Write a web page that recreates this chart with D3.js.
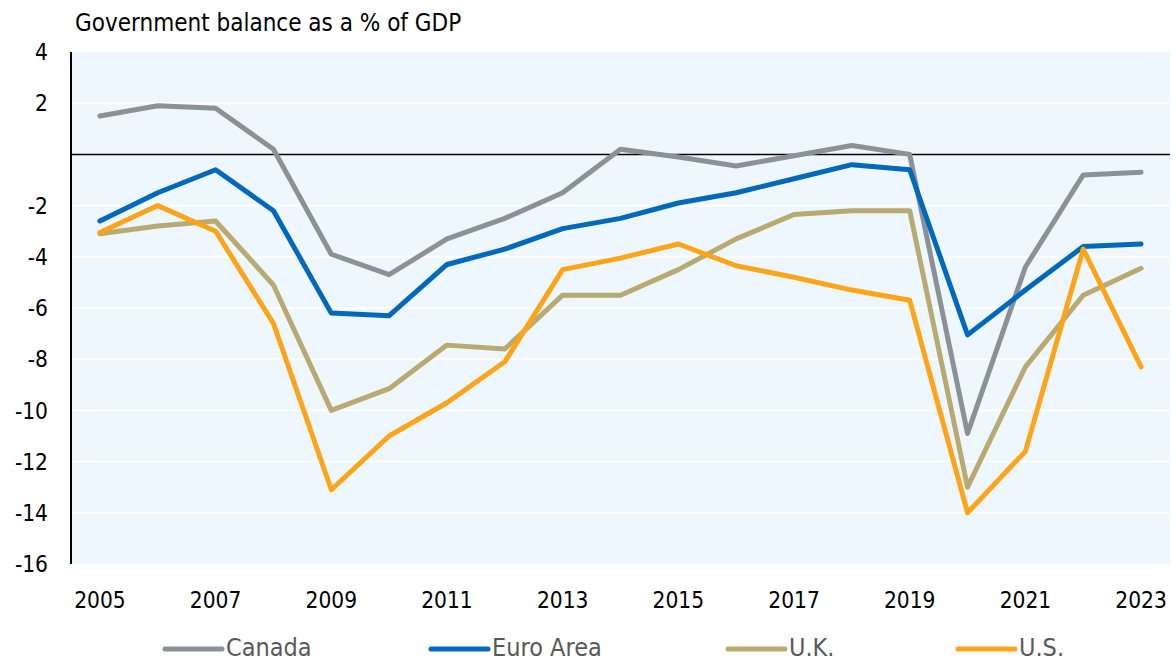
<!DOCTYPE html>
<html>
<head>
<meta charset="utf-8">
<script src="https://cdn.jsdelivr.net/npm/d3@7"></script>
<style>
  body { margin: 0; background: #fff; }
  svg { display: block; font-family: "DejaVu Sans Condensed", "DejaVu Sans", sans-serif; }
</style>
</head>
<body>
<div id="chart"></div>
<script>
const years = d3.range(2005, 2024);
const canada = [1.5, 1.9, 1.8, 0.2, -3.9, -4.7, -3.3, -2.5, -1.5, 0.2, -0.1, -0.45, -0.05, 0.35, 0.0, -10.9, -4.4, -0.8, -0.7];
const euroArea = [-2.6, -1.5, -0.6, -2.2, -6.2, -6.3, -4.3, -3.7, -2.9, -2.5, -1.9, -1.5, -0.95, -0.4, -0.6, -7.05, -5.3, -3.6, -3.5];
const uk = [-3.1, -2.8, -2.6, -5.1, -10.0, -9.15, -7.45, -7.6, -5.5, -5.5, -4.5, -3.3, -2.35, -2.2, -2.2, -13.0, -8.3, -5.5, -4.45];
const us = [-3.05, -2.0, -3.0, -6.6, -13.1, -11.0, -9.7, -8.1, -4.5, -4.05, -3.5, -4.35, -4.8, -5.3, -5.7, -14.0, -11.6, -3.7, -8.3];
const yTicks = [4, 2, -2, -4, -6, -8, -10, -12, -14, -16];
const xTicks = [2005, 2007, 2009, 2011, 2013, 2015, 2017, 2019, 2021, 2023];

const series = [
  { name: "Canada", values: canada, color: "#8b9197" },
  { name: "Euro Area", values: euroArea, color: "#0068bd" },
  { name: "U.K.", values: uk, color: "#b9aa72" },
  { name: "U.S.", values: us, color: "#fea418" }
];

const W = 1173, H = 663;
const margin = { top: 52, right: 3, bottom: 99, left: 71 };
const width = W - margin.left - margin.right;
const height = H - margin.top - margin.bottom;

const svg = d3.select("#chart").append("svg")
  .attr("width", W)
  .attr("height", H);

const g = svg.append("g")
  .attr("transform", `translate(${margin.left},${margin.top})`);

const x = d3.scaleBand().domain(years).range([0, width]);
const y = d3.scaleLinear().domain([-16, 4]).range([height, 0]);

// plot background
g.append("rect")
  .attr("width", width)
  .attr("height", height)
  .attr("fill", "#eef7fd");

// white gridlines
g.selectAll(".grid")
  .data(yTicks.filter(d => d !== 4 && d !== -16))
  .join("line")
  .attr("x1", 0)
  .attr("x2", width)
  .attr("y1", d => y(d))
  .attr("y2", d => y(d))
  .attr("stroke", "#fff")
  .attr("stroke-width", 2);

// y labels
g.selectAll(".ylab")
  .data(yTicks)
  .join("text")
  .attr("x", -23)
  .attr("y", d => y(d))
  .attr("dy", "0.36em")
  .attr("text-anchor", "end")
  .attr("font-size", 22.5)
  .attr("fill", "#000")
  .text(d => d);

// x labels
g.selectAll(".xlab")
  .data(xTicks)
  .join("text")
  .attr("x", d => x(d) + x.bandwidth() / 2)
  .attr("y", height + 44)
  .attr("text-anchor", "middle")
  .attr("font-size", 22.5)
  .attr("fill", "#000")
  .text(d => d);

// zero line and y axis
g.append("line")
  .attr("x1", 0).attr("x2", width)
  .attr("y1", y(0)).attr("y2", y(0))
  .attr("stroke", "#000")
  .attr("stroke-width", 1.5);

g.append("line")
  .attr("x1", 0).attr("x2", 0)
  .attr("y1", 0).attr("y2", height)
  .attr("stroke", "#000")
  .attr("stroke-width", 2);

const line = d3.line()
  .x((d, i) => x(years[i]) + x.bandwidth() / 2)
  .y(d => y(d));

g.selectAll(".series")
  .data(series)
  .join("path")
  .attr("fill", "none")
  .attr("stroke", d => d.color)
  .attr("stroke-width", 5)
  .attr("stroke-linecap", "round")
  .attr("stroke-linejoin", "round")
  .attr("d", d => line(d.values));

// title
svg.append("text")
  .attr("x", 75)
  .attr("y", 31)
  .attr("font-size", 24)
  .attr("fill", "#000")
  .text("Government balance as a % of GDP");

// legend
const legendX = [165, 431, 728, 958];
const legend = svg.selectAll(".legend")
  .data(series)
  .join("g")
  .attr("transform", (d, i) => `translate(${legendX[i]},649)`);

legend.append("line")
  .attr("x1", 0).attr("x2", 57)
  .attr("stroke", d => d.color)
  .attr("stroke-width", 5)
  .attr("stroke-linecap", "round");

legend.append("text")
  .attr("x", 61)
  .attr("y", 7)
  .attr("font-size", 25)
  .attr("fill", "#595959")
  .text(d => d.name);
</script>
</body>
</html>
